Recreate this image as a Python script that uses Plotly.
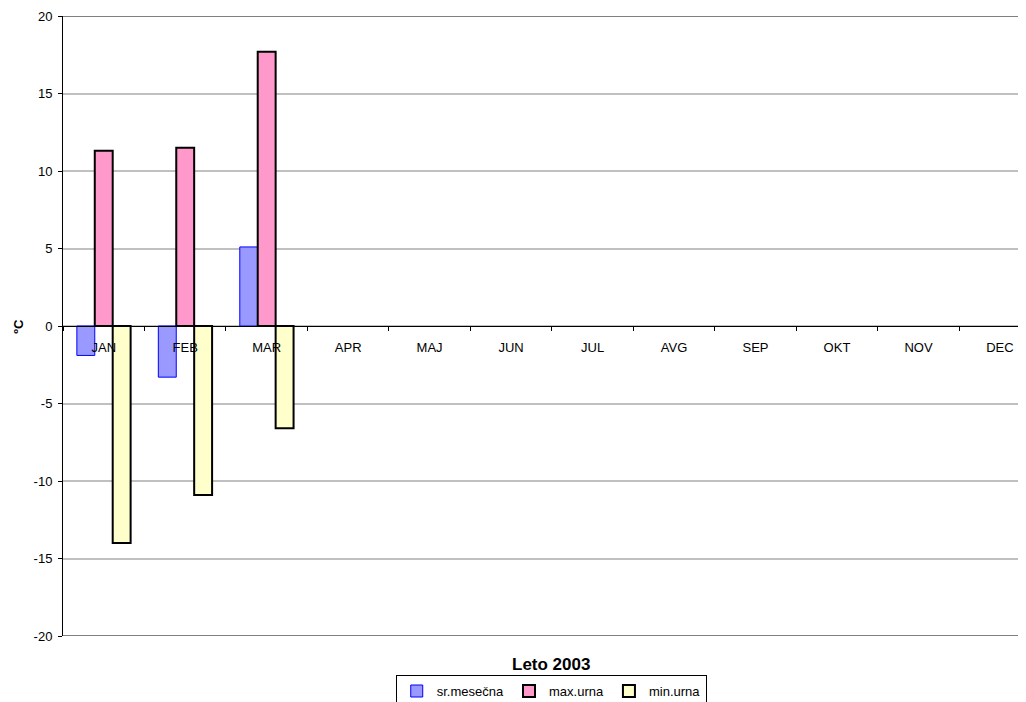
import plotly.graph_objects as go

months = ["JAN", "FEB", "MAR", "APR", "MAJ", "JUN", "JUL", "AVG", "SEP", "OKT", "NOV", "DEC"]
sr_mesecna = [-1.9, -3.3, 5.1, None, None, None, None, None, None, None, None, None]
max_urna = [11.3, 11.5, 17.7, None, None, None, None, None, None, None, None, None]
min_urna = [-14.0, -10.9, -6.6, None, None, None, None, None, None, None, None, None]
y_ticks = [-20, -15, -10, -5, 0, 5, 10, 15, 20]

fig = go.Figure()
fig.add_trace(go.Bar(x=months, y=sr_mesecna, name="sr.mesečna",
                     marker=dict(color="#9999FF", line=dict(color="#0000FF", width=1))))
fig.add_trace(go.Bar(x=months, y=max_urna, name="max.urna",
                     marker=dict(color="#FF99CC", line=dict(color="#000000", width=2))))
fig.add_trace(go.Bar(x=months, y=min_urna, name="min.urna",
                     marker=dict(color="#FFFFCC", line=dict(color="#000000", width=2))))

# page body adds an 8px offset, so the figure is sized to fill the rest of the window
fig.update_layout(
    width=1018, height=694,
    margin=dict(l=55, r=0, t=8, b=66, autoexpand=False),
    plot_bgcolor="white", paper_bgcolor="white",
    font=dict(family="Liberation Sans, Arial", size=13, color="black"),
    barmode="group", bargap=0.34, bargroupgap=0,
    showlegend=True,
    legend=dict(orientation="h", x=0.507, xanchor="center", y=-0.063, yanchor="top",
                bordercolor="black", borderwidth=1, font=dict(size=13),
                itemwidth=30, tracegroupgap=0),
)
# the plot area runs past the right edge of the picture, so DEC is partly cut off
fig.update_xaxes(
    range=[-0.5, 11.32],
    anchor="free", position=0.5, showline=True, linecolor="black", linewidth=1,
    ticks="outside", ticklen=4, tickcolor="black", tickson="boundaries",
    ticklabelstandoff=9,
    showgrid=False, zeroline=False, tickfont=dict(size=13),
)
fig.update_yaxes(
    range=[-20, 20], tickvals=y_ticks, ticktext=[str(v) for v in y_ticks],
    showline=True, linecolor="black", linewidth=1,
    ticks="outside", ticklen=4, tickcolor="black", ticklabelstandoff=3,
    showgrid=True, gridcolor="#C0C0C0", gridwidth=2, zeroline=False,
    tickfont=dict(size=13),
)
# darker gray border along the top and bottom of the plot area
for yy in (20, -20):
    fig.add_shape(type="line", xref="paper", yref="y", x0=0, x1=1, y0=yy, y1=yy,
                  line=dict(color="#808080", width=2), layer="below")

fig.add_annotation(text="<b>Leto 2003</b>", xref="paper", yref="paper", x=0.507, y=-0.046,
                   xanchor="center", yanchor="middle", showarrow=False, font=dict(size=17))
fig.add_annotation(text="<b>ºC</b>", xref="paper", yref="paper", x=-0.047, y=0.5,
                   xanchor="center", yanchor="middle", showarrow=False, textangle=-90,
                   font=dict(size=13))

fig.write_html("out.html")
